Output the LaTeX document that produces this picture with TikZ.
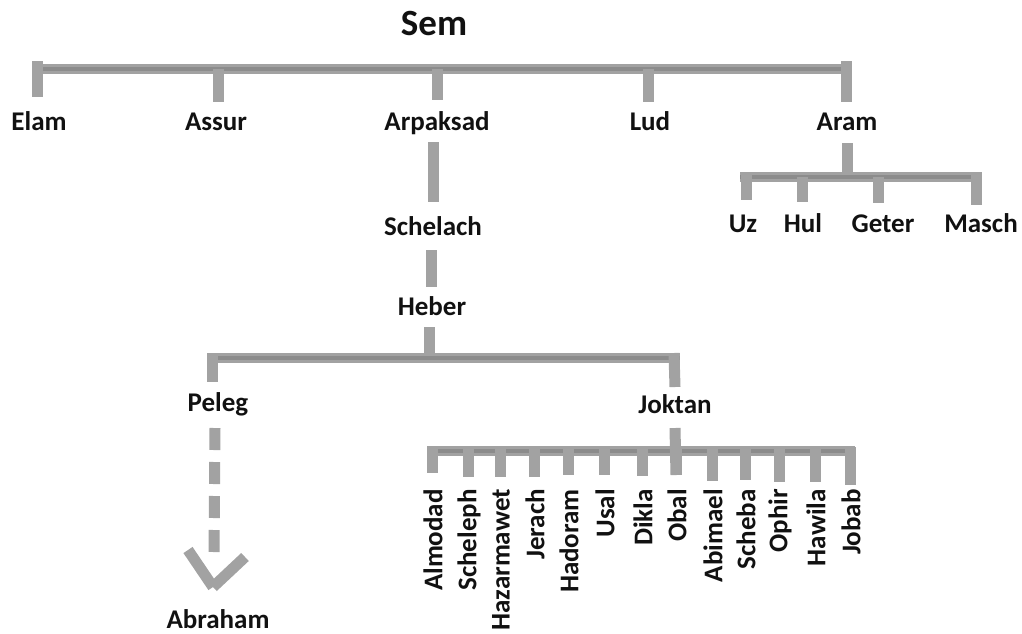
\documentclass[tikz,border=0pt]{standalone}
\usepackage{fontspec}
\setmainfont{Carlito}
\definecolor{barout}{RGB}{162,162,162}
\definecolor{barin}{RGB}{140,140,140}
\definecolor{txt}{RGB}{17,17,17}
\begin{document}
\begin{tikzpicture}[x=1pt,y=-1pt,
  lbl/.style={inner sep=0pt,anchor=base,text=txt,font=\fontsize{27}{30}\selectfont\bfseries},
  rlbl/.style={inner sep=0pt,rotate=90,anchor=east,text=txt,font=\fontsize{27}{30}\selectfont\bfseries},
  hbar/.style={draw=barout,line width=10pt,line cap=butt},
  hcore/.style={draw=barin,line width=4pt,line cap=butt},
  vbar/.style={draw=barout,line width=11pt,line cap=butt},
  dashbar/.style={draw=barout,line width=11pt,line cap=butt,dash pattern=on 22pt off 12pt},
]
\useasboundingbox (0,0) rectangle (1022,633);

% ---- labels
\node[lbl,font=\fontsize{37}{40}\selectfont\bfseries] (sem) at (434,35) {Sem};
\node[lbl] (elam) at (39,130) {Elam};
\node[lbl] (assur) at (216,130) {Assur};
\node[lbl] (arpaksad) at (437,130) {Arpaksad};
\node[lbl] (lud) at (650,130) {Lud};
\node[lbl] (aram) at (847,130) {Aram};
\node[lbl] (uz) at (743,232) {Uz};
\node[lbl] (hul) at (803,232) {Hul};
\node[lbl] (geter) at (883,232) {Geter};
\node[lbl] (masch) at (981,232) {Masch};
\node[lbl] (schelach) at (433,235) {Schelach};
\node[lbl] (heber) at (432,315) {Heber};
\node[lbl] (peleg) at (218,411) {Peleg};
\node[lbl] (joktan) at (675,413) {Joktan};
\node[lbl] (abraham) at (218,628) {Abraham};

% ---- Sem bar
\coordinate (semL) at (32,69);
\coordinate (semR) at (852,69);
\draw[hbar] (semL) -- (semR);
\draw[hcore] (semL) -- (semR);
\coordinate (elamT) at (37,61);   \coordinate (elamB) at (37,97);
\coordinate (assurT) at (218,69); \coordinate (assurB) at (218,102);
\coordinate (arpT) at (437,69);   \coordinate (arpB) at (437,100);
\coordinate (ludT) at (648,69);   \coordinate (ludB) at (648,102);
\coordinate (aramT) at (846,61);  \coordinate (aramB) at (846,102);
\draw[vbar] (elamT) -- (elamB);
\draw[vbar] (assurT) -- (assurB);
\draw[vbar] (arpT) -- (arpB);
\draw[vbar] (ludT) -- (ludB);
\draw[vbar] (aramT) -- (aramB);

% ---- Aram's sons
\coordinate (aramD1) at (847,143); \coordinate (aramD2) at (847,177);
\draw[vbar] (aramD1) -- (aramD2);
\coordinate (arL) at (740,177); \coordinate (arR) at (981,177);
\draw[hbar] (arL) -- (arR);
\draw[hcore] (arL) -- (arR);
\coordinate (uzT) at (746,172);    \coordinate (uzB) at (746,200);
\coordinate (hulT) at (802,177);   \coordinate (hulB) at (802,202);
\coordinate (geterT) at (878,177); \coordinate (geterB) at (878,203);
\coordinate (maschT) at (976,172); \coordinate (maschB) at (976,205);
\draw[vbar] (uzT) -- (uzB);
\draw[vbar] (hulT) -- (hulB);
\draw[vbar] (geterT) -- (geterB);
\draw[vbar] (maschT) -- (maschB);

% ---- Arpaksad line
\coordinate (a1) at (433,142); \coordinate (a2) at (433,202);
\draw[vbar] (a1) -- (a2);
\coordinate (s1) at (431,250); \coordinate (s2) at (431,287);
\draw[vbar] (s1) -- (s2);
\coordinate (h1) at (429,327); \coordinate (h2) at (429,358);
\draw[vbar] (h1) -- (h2);

% ---- Heber bar
\coordinate (hbL) at (207,358); \coordinate (hbR) at (680,358);
\draw[hbar] (hbL) -- (hbR);
\draw[hcore] (hbL) -- (hbR);
\coordinate (pelT) at (212,353); \coordinate (pelB) at (212,382);
\coordinate (jokT) at (674,353); \coordinate (jokB) at (675,387);
\draw[vbar] (pelT) -- (pelB);
\draw[vbar] (jokT) -- (jokB);

% ---- Peleg to Abraham
\coordinate (p1) at (215,428); \coordinate (p2) at (214,562);
\draw[dashbar] (p1) -- (p2);
\coordinate (ahL) at (188,550); \coordinate (ahR) at (245,557); \coordinate (ahT) at (213,587);
\draw[vbar] (ahL) -- (ahT);
\draw[vbar] (ahR) -- (ahT);

% ---- Joktan's sons
\coordinate (jbL) at (427,451); \coordinate (jbR) at (855,451);
\draw[hbar] (jbL) -- (jbR);
\draw[hcore] (jbL) -- (jbR);
\coordinate (jd1) at (675,428); \coordinate (jd2) at (676,475);
\draw[vbar] (jd1) -- (jd2);
\foreach \x/\e/\nm/\t in {
  432/473/almodad/Almodad, 468/477/scheleph/Scheleph, 500/477/hazarmawet/Hazarmawet,
  534/477/jerach/Jerach, 568/475/hadoram/Hadoram, 604/475/usal/Usal,
  642/476/dikla/Dikla, 676/475/obal/Obal, 712/481/abimael/Abimael,
  745/480/scheba/Scheba, 779/482/ophir/Ophir, 815/482/hawila/Hawila,
  850/485/jobab/Jobab}{
  \coordinate (\nm T) at (\x,447);
  \coordinate (\nm B) at (\x,\e);
  \draw[vbar] (\nm T) -- (\nm B);
  \node[rlbl] (\nm) at (\x+1,489) {\t};
}
\end{tikzpicture}
\end{document}
